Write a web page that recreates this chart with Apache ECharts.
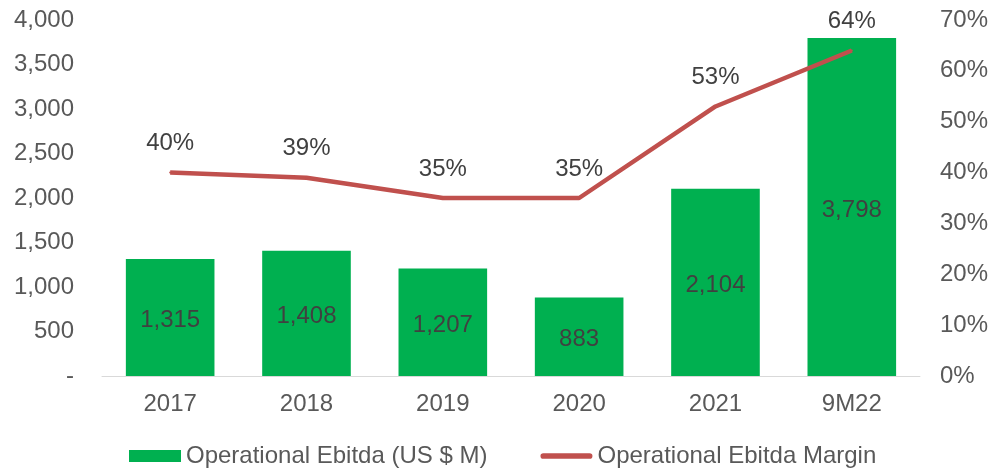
<!DOCTYPE html>
<html>
<head>
<meta charset="utf-8">
<script src="https://cdn.jsdelivr.net/npm/echarts@6/dist/echarts.min.js"></script>
<style>
html, body { margin: 0; padding: 0; background: #fff; }
#main { width: 991px; height: 468px; }
</style>
</head>
<body>
<div id="main"></div>
<script>
var categories = ['2017', '2018', '2019', '2020', '2021', '9M22'];
var ebitda = [1315, 1408, 1207, 883, 2104, 3798];
var margin = [40, 39, 35, 35, 53, 64];

var chart = echarts.init(document.getElementById('main'));
var font = 'Liberation Sans, Arial, sans-serif';

function fmtThousands(v) {
    if (v === 0) return '-';
    return String(v).replace(/\B(?=(\d{3})+(?!\d))/g, ',');
}

var option = {
    backgroundColor: '#fff',
    animation: false,
    textStyle: { fontFamily: font },
    grid: { left: 102, right: 71, top: 20, bottom: 92 },
    legend: {
        top: 439,
        left: 124,
        itemWidth: 52,
        itemHeight: 12,
        itemGap: 53,
        textStyle: { fontSize: 24, color: '#595959', fontFamily: font },
        data: [
            { name: 'Operational Ebitda (US $ M)', icon: 'rect' },
            {
                name: 'Operational Ebitda Margin',
                icon: 'path://M3,0 L52,0 A3,3 0 0 1 52,6 L3,6 A3,3 0 0 1 3,0 Z',
                itemStyle: { color: '#C0504D', opacity: 1 }
            }
        ]
    },
    xAxis: {
        type: 'category',
        data: categories,
        axisLine: { show: true, lineStyle: { color: '#d9d9d9', width: 1 } },
        axisTick: { show: false },
        axisLabel: { fontSize: 24, color: '#595959', margin: 16, fontFamily: font }
    },
    yAxis: [
        {
            type: 'value',
            min: 0,
            max: 4000,
            interval: 500,
            splitLine: { show: false },
            axisLine: { show: false },
            axisTick: { show: false },
            axisLabel: {
                fontSize: 24, color: '#595959', margin: 28, fontFamily: font,
                formatter: fmtThousands
            }
        },
        {
            type: 'value',
            min: 0,
            max: 70,
            interval: 10,
            splitLine: { show: false },
            axisLine: { show: false },
            axisTick: { show: false },
            axisLabel: {
                fontSize: 24, color: '#595959', margin: 20, fontFamily: font,
                formatter: '{value}%'
            }
        }
    ],
    series: [
        {
            name: 'Operational Ebitda (US $ M)',
            type: 'bar',
            data: ebitda,
            barWidth: '65%',
            itemStyle: { color: '#00B050' },
            label: {
                show: true,
                position: 'inside',
                offset: [0, 3],
                fontSize: 24,
                color: '#404040',
                fontFamily: font,
                formatter: function (p) { return fmtThousands(p.value); }
            }
        },
        {
            name: 'Operational Ebitda Margin',
            type: 'line',
            yAxisIndex: 1,
            data: margin,
            symbol: 'circle',
            symbolSize: 2,
            showSymbol: true,
            lineStyle: { color: '#C0504D', width: 4.5 },
            itemStyle: { color: '#C0504D' },
            label: {
                show: true,
                position: 'top',
                distance: 16,
                fontSize: 24,
                color: '#404040',
                fontFamily: font,
                formatter: '{c}%'
            }
        }
    ]
};

chart.setOption(option);
</script>
</body>
</html>
